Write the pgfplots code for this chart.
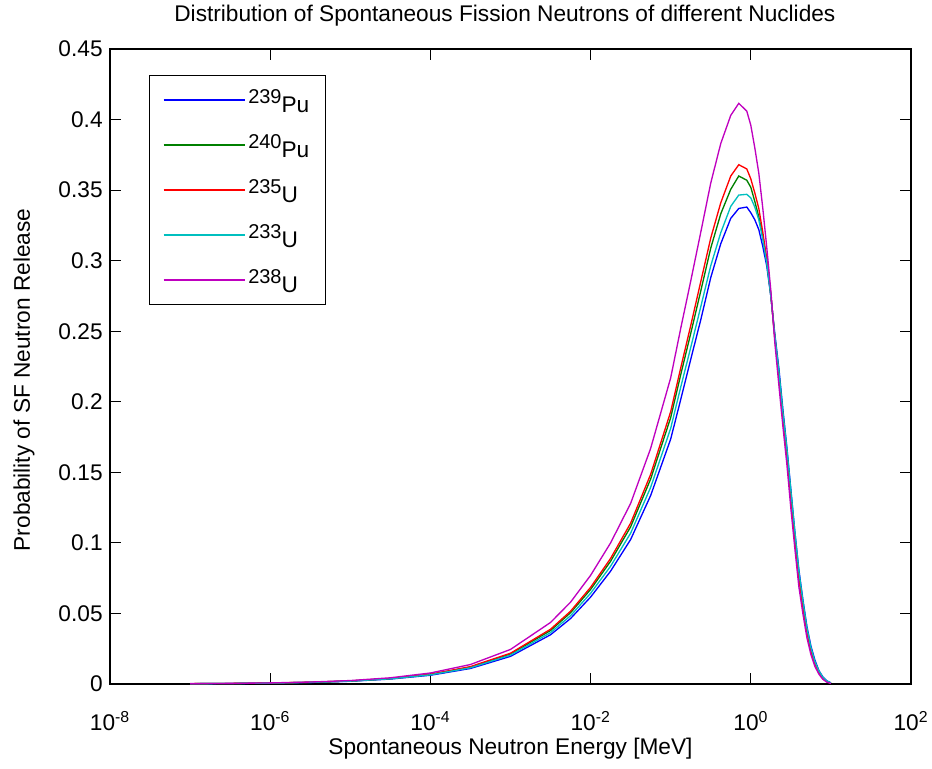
\documentclass[border=0pt]{standalone}
\usepackage{pgfplots}
\usepackage{pgfplotstable}
\pgfplotsset{compat=1.18}
\usepackage{fontspec}
\setmainfont{Liberation Sans}

\newcommand{\iso}[2]{\raisebox{7pt}{\fontsize{15}{15}\selectfont #1}#2}
\newcommand{\fs}{\fontsize{17}{20}\selectfont}

% E [MeV], then one column per nuclide
\pgfplotstableread{
E        pu239   pu240    u235    u233     u238
1e-7     0.0002  0.000218 0.00022 0.000209 0.00025
3.162e-7 0.00035 0.000383 0.00039 0.000367 0.00044
1e-6     0.00062 0.000679 0.00069 0.000651 0.00078
3.162e-6 0.0011  0.0012   0.00123 0.00115  0.00138
1e-5     0.00196 0.00213  0.00218 0.00205  0.00245
3.162e-5 0.0035  0.00383  0.0039  0.00367  0.0044
1e-4     0.0062  0.00679  0.0069  0.00651  0.0078
3.162e-4 0.011   0.012    0.0123  0.0115   0.0138
1e-3     0.0196  0.0213   0.0218  0.0205   0.0245
3.162e-3 0.0349  0.0379   0.0388  0.0364   0.0436
5.623e-3 0.0464  0.0505   0.0516  0.0484   0.058
0.01     0.0616  0.067    0.0685  0.0643   0.077
0.01778  0.080   0.087    0.089   0.0835   0.100
0.03162  0.1024  0.1114   0.114   0.1069   0.128
0.05623  0.1336  0.1453   0.1486  0.1394   0.167
0.1      0.1736  0.1888   0.193   0.1812   0.217
0.1334   0.2016  0.2192   0.224   0.2104   0.252
0.1778   0.230   0.2484   0.254   0.2384   0.2855
0.2371   0.258   0.2784   0.285   0.2672   0.320
0.3162   0.288   0.3089   0.316   0.2964   0.355
0.4217   0.312   0.3332   0.341   0.3198   0.383
0.5623   0.330   0.3506   0.360   0.3385   0.403
0.7079   0.337   0.360    0.368   0.3465   0.4115
0.8913   0.338   0.357    0.365   0.347    0.406
1.0      0.334   0.352    0.358   0.3445   0.396
1.122    0.329   0.342    0.348   0.338    0.380
1.259    0.322   0.331    0.337   0.329    0.362
1.413    0.310   0.317    0.320   0.315    0.337
1.585    0.296   0.300    0.301   0.298    0.309
1.778    0.275   0.276    0.276   0.275    0.279
1.995    0.248   0.246    0.245   0.247    0.242
2.239    0.224   0.220    0.219   0.222    0.212
2.512    0.195   0.191    0.190   0.193    0.183
2.818    0.168   0.164    0.163   0.167    0.156
3.162    0.138   0.134    0.132   0.137    0.1245
3.548    0.108   0.104    0.103   0.108    0.096
3.981    0.081   0.077    0.075   0.080    0.069
4.467    0.060   0.056    0.0545  0.059    0.050
5.012    0.041   0.038    0.037   0.040    0.033
5.623    0.027   0.024    0.0235  0.026    0.021
6.310    0.017   0.015    0.0145  0.016    0.0125
7.079    0.0095  0.0085   0.0082  0.0093   0.007
7.943    0.005   0.0042   0.004   0.0048   0.0033
8.913    0.0022  0.0018   0.0017  0.0021   0.0013
10       0.0008  0.0006   0.0006  0.0008   0.0004
}\sfdata

\definecolor{mblue}{rgb}{0,0,1}
\definecolor{mgreen}{rgb}{0,0.5,0}
\definecolor{mred}{rgb}{1,0,0}
\definecolor{mcyan}{rgb}{0,0.75,0.75}
\definecolor{mmag}{rgb}{0.75,0,0.75}

\begin{document}
\begin{tikzpicture}
\useasboundingbox (-82.5pt,-63pt) rectangle (616.5pt,513pt);
\begin{axis}[
    scale only axis,
    width=600.75pt, height=476.25pt,
    xmode=log, log basis x=10,
    xmin=1e-8, xmax=1e2,
    ymin=0, ymax=0.45,
    xtick={1e-8,1e-6,1e-4,1e-2,1e0,1e2},
    xticklabels={10\textsuperscript{-8},10\textsuperscript{-6},10\textsuperscript{-4},10\textsuperscript{-2},10\textsuperscript{0},10\textsuperscript{2}},
    ytick={0,0.05,0.1,0.15,0.2,0.25,0.3,0.35,0.4,0.45},
    yticklabels={0,0.05,0.1,0.15,0.2,0.25,0.3,0.35,0.4,0.45},
    xminorticks=false, yminorticks=false,
    tick pos=both, tick align=inside,
    major tick length=8pt,
    axis line style={line width=0.9pt},
    every tick/.style={black, line width=0.9pt},
    tick label style={font=\fs},
    xticklabel style={anchor=base, yshift=-35pt},
    yticklabel style={xshift=-2pt},
    title={Distribution of Spontaneous Fission Neutrons of different Nuclides},
    title style={font=\fs, at={(axis description cs:0.493,1.03)}, anchor=base},
    xlabel={Spontaneous Neutron Energy [MeV]},
    xlabel style={font=\fs, at={(axis description cs:0.5,-0.111)}, anchor=base},
    ylabel={Probability of SF Neutron Release},
    ylabel style={font=\fs, at={(axis description cs:-0.0999,0.479)}, anchor=base},
    legend style={font=\fs, at={(axis description cs:0,1)}, anchor=north west,
        xshift=29.25pt, yshift=-19.5pt, draw=black, line width=0.9pt,
        inner xsep=10pt, inner ysep=4pt, row sep=5.25pt,
        nodes={inner sep=2pt, text height=22pt, text depth=2.5pt}},
    legend cell align=left,
    legend image code/.code={\draw[#1] (0pt,0pt) -- (61pt,0pt);},
    every axis plot/.append style={line width=1pt},
]
\addplot[mblue] table[x=E, y=pu239] {\sfdata};
\addplot[mgreen] table[x=E, y=pu240] {\sfdata};
\addplot[mred] table[x=E, y=u235] {\sfdata};
\addplot[mcyan] table[x=E, y=u233] {\sfdata};
\addplot[mmag] table[x=E, y=u238] {\sfdata};
\legend{\iso{239}{Pu},\iso{240}{Pu},\iso{235}{U},\iso{233}{U},\iso{238}{U}}
\end{axis}
\end{tikzpicture}
\end{document}
